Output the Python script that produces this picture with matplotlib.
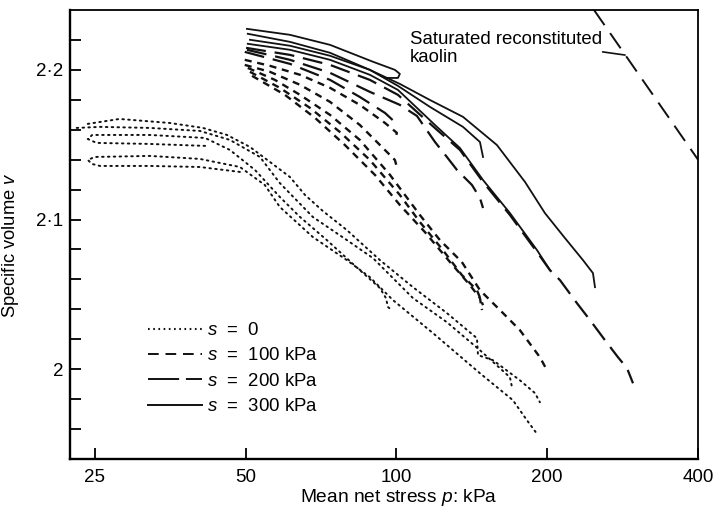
import matplotlib
matplotlib.use('Agg')
import matplotlib.pyplot as plt
from matplotlib.lines import Line2D
from matplotlib.ticker import FixedLocator, FixedFormatter, NullLocator

plt.rcParams['font.family'] = ['Liberation Sans', 'DejaVu Sans']
plt.rcParams['mathtext.fontset'] = 'custom'
plt.rcParams['mathtext.rm'] = 'Liberation Sans'
plt.rcParams['mathtext.it'] = 'Liberation Sans:italic'

# isotropic loading paths, mean net stress p (kPa) and specific volume v
# s = 0
s0_p = [
    [24.2, 28.0, 35.3, 41.1, 45.9, 51.0, 55.9, 61.3, 65.7, 71.3, 79.6, 92.7,
     107.9, 126.1, 144.8, 145.5, 155.9, 176.4, 189.1, 193.4],
    [23.0, 25.6, 32.2, 40.5, 46.5, 53.4, 58.5, 68.1, 79.6, 89.8, 107.9, 126.1,
     146.8, 160.9, 168.5, 170.1],
    [41.5, 32.2, 25.2, 24.2, 24.7, 32.2, 41.5, 46.5, 52.2, 58.5, 64.2, 72.6,
     84.5, 92.7, 95.3, 96.2, 97.9],
    [48.7, 40.5, 32.2, 25.6, 24.7, 24.2, 25.0, 32.2, 40.5, 48.7, 54.6, 58.5,
     68.1, 79.6, 88.5, 98.4, 118.3, 146.8, 170.8, 182.2, 191.7],
]
s0_v = [
    [2.1639, 2.1672, 2.1645, 2.1612, 2.1565, 2.1485, 2.1385, 2.1284, 2.1164,
     2.1057, 2.0930, 2.0729, 2.0548, 2.0375, 2.0207, 2.0094, 2.0060, 1.9926,
     1.9840, 1.9779],
    [2.1612, 2.1619, 2.1612, 2.1592, 2.1532, 2.1418, 2.1244, 2.1017, 2.0863,
     2.0742, 2.0475, 2.0314, 2.0127, 2.0007, 1.9946, 1.9880],
    [2.1492, 2.1505, 2.1512, 2.1538, 2.1565, 2.1565, 2.1545, 2.1465, 2.1331,
     2.1151, 2.1017, 2.0863, 2.0662, 2.0542, 2.0475, 2.0415, 2.0395],
    [2.1318, 2.1351, 2.1358, 2.1358, 2.1371, 2.1398, 2.1418, 2.1425, 2.1405,
     2.1351, 2.1231, 2.1084, 2.0883, 2.0729, 2.0615, 2.0462, 2.0241, 1.9973,
     1.9793, 1.9659, 1.9559],
]

# s = 100 kPa
s100_p = [
    [49.8, 55.9, 64.2, 73.7, 84.5, 94.9, 100.2, 99.3],
    [49.8, 55.9, 64.2, 73.7, 84.5, 92.7, 99.3, 100.2],
    [50.5, 57.2, 64.2, 73.7, 84.5, 97.1, 111.4, 122.1, 135.1, 146.8, 163.2,
     176.4, 193.4, 199.8],
    [51.0, 58.5, 67.2, 77.1, 88.5, 101.6, 111.4, 123.8, 135.1, 144.8, 148.9],
    [51.5, 59.9, 68.8, 78.9, 90.6, 101.6, 114.0, 127.9, 140.2, 146.8, 148.2],
]
s100_v = [
    [2.2067, 2.2027, 2.1967, 2.1880, 2.1766, 2.1645, 2.1579, 2.1532],
    [2.2033, 2.1987, 2.1900, 2.1786, 2.1632, 2.1498, 2.1398, 2.1351],
    [2.2013, 2.1933, 2.1833, 2.1699, 2.1532, 2.1298, 2.1030, 2.0863, 2.0716,
     2.0528, 2.0375, 2.0261, 2.0080, 1.9993],
    [2.1987, 2.1880, 2.1746, 2.1585, 2.1398, 2.1164, 2.0983, 2.0796, 2.0629,
     2.0528, 2.0428],
    [2.1960, 2.1833, 2.1679, 2.1498, 2.1298, 2.1097, 2.0916, 2.0716, 2.0562,
     2.0475, 2.0395],
]

# s = 200 kPa
s200_p = [
    [50.1, 61.3, 73.7, 88.5, 100.7, 120.5, 133.9, 148.9, 168.5, 190.8, 202.5,
     212.1, 229.3, 243.5, 260.8, 276.9, 288.6, 296.7],
    [50.3, 61.3, 73.7, 88.5, 101.6, 109.9, 119.4, 126.1, 132.1, 141.5, 146.8,
     148.9],
    [49.8, 61.3, 73.7, 84.5, 94.9, 100.7],
]
s200_v = [
    [2.2147, 2.2100, 2.2033, 2.1933, 2.1833, 2.1599, 2.1465, 2.1251, 2.1030,
     2.0783, 2.0662, 2.0595, 2.0441, 2.0328, 2.0194, 2.0080, 2.0007, 1.9906],
    [2.2134, 2.2067, 2.1980, 2.1853, 2.1766, 2.1692, 2.1518, 2.1418, 2.1331,
     2.1231, 2.1144, 2.1077],
    [2.2120, 2.2040, 2.1933, 2.1819, 2.1712, 2.1632],
]

# s = 300 kPa
s300_p = [
    [50.3, 61.3, 73.7, 89.8, 99.3, 101.6, 100.7, 94.9],
    [50.5, 61.3, 73.7, 88.5, 100.7, 116.6, 135.8, 146.8, 148.9],
    [51.0, 61.3, 73.7, 88.5, 101.6, 116.6, 135.8, 158.7, 180.6, 197.9, 217.0,
     235.7, 246.8, 249.1],
    [50.5, 61.3, 73.7, 88.5, 100.7, 120.5, 133.9, 148.9, 168.5, 190.8, 202.5],
]
s300_v = [
    [2.2274, 2.2234, 2.2167, 2.2054, 2.2000, 2.1973, 2.1946, 2.1946],
    [2.2241, 2.2187, 2.2114, 2.2000, 2.1893, 2.1753, 2.1619, 2.1518, 2.1418],
    [2.2201, 2.2161, 2.2094, 2.2000, 2.1906, 2.1799, 2.1686, 2.1498, 2.1251,
     2.1043, 2.0876, 2.0729, 2.0642, 2.0548],
    [2.2174, 2.2134, 2.2067, 2.1967, 2.1866, 2.1619, 2.1478, 2.1264, 2.1043,
     2.0796, 2.0662],
]

# normal compression line of saturated kaolin
ncl_p = [248, 400]
ncl_v = [2.240, 2.140]

legend_labels = ['$s$  =  0', '$s$  =  100 kPa', '$s$  =  200 kPa', '$s$  =  300 kPa']
x_ticks = [25, 50, 100, 200, 400]
y_major = [2.0, 2.1, 2.2]
y_major_labels = ['2', '2·1', '2·2']
y_minor = [1.96, 1.98, 2.02, 2.04, 2.06, 2.08, 2.12, 2.14, 2.16, 2.18, 2.22]

ink = '#111111'
dot_style = (0, (0.8, 2.2))
short_dash = (0, (3.0, 2.4))
long_dash = (0, (9.0, 4.0))

fig = plt.figure(figsize=(7.14, 5.12), dpi=100)
ax = fig.add_axes([0.098, 0.1035, 0.8796, 0.877])

for p, v in zip(s0_p, s0_v):
    ax.plot(p, v, color=ink, lw=1.4, ls=dot_style, dash_capstyle='round')
for p, v in zip(s100_p, s100_v):
    ax.plot(p, v, color=ink, lw=1.7, ls=short_dash)
for p, v in zip(s200_p, s200_v):
    ax.plot(p, v, color=ink, lw=1.6, ls=long_dash)
for p, v in zip(s300_p, s300_v):
    ax.plot(p, v, color=ink, lw=1.3, ls='-')

ax.plot(ncl_p, ncl_v, color=ink, lw=1.4, ls=(0, (9.5, 5)))
ax.text(106.5, 2.2262, 'Saturated reconstituted\nkaolin', fontsize=13.4,
        va='top', ha='left', linespacing=1.08)
ax.annotate('', xy=(286, 2.2099), xytext=(258, 2.2120),
            arrowprops=dict(arrowstyle='-', lw=1.2, color=ink,
                            shrinkA=0, shrinkB=0))

ax.set_xscale('log')
ax.set_xlim(22.3, 400)
ax.set_ylim(1.94, 2.24)
ax.xaxis.set_major_locator(FixedLocator(x_ticks))
ax.xaxis.set_major_formatter(FixedFormatter([str(t) for t in x_ticks]))
ax.xaxis.set_minor_locator(NullLocator())
ax.yaxis.set_major_locator(FixedLocator(y_major))
ax.yaxis.set_major_formatter(FixedFormatter(y_major_labels))
ax.yaxis.set_minor_locator(FixedLocator(y_minor))

ax.tick_params(axis='both', which='both', direction='in', length=8, width=1.4,
               color=ink, labelsize=13.5, top=False, right=False)
ax.tick_params(axis='x', pad=7)
ax.tick_params(axis='y', pad=5)
for side in ['left', 'bottom']:
    ax.spines[side].set_linewidth(1.7)
for side in ['top', 'right']:
    ax.spines[side].set_linewidth(1.3)

ax.set_xlabel('Mean net stress $p$: kPa', fontsize=13.8)
ax.xaxis.set_label_coords(0.523, -0.062)
ax.set_ylabel('Specific volume $v$', fontsize=13.2)
ax.yaxis.set_label_coords(-0.078, 0.477)

handles = [
    Line2D([], [], color=ink, lw=1.5, ls=(0, (0.8, 1.7))),
    Line2D([], [], color=ink, lw=1.4, ls=(0, (5.5, 3.5))),
    Line2D([], [], color=ink, lw=1.4, ls=(0, (16, 3.5))),
    Line2D([], [], color=ink, lw=1.4, ls='-'),
]
ax.legend(handles, legend_labels, loc='upper left', bbox_to_anchor=(0.124, 0.305),
          frameon=False, fontsize=13.4, handlelength=2.9, handletextpad=0.3,
          labelspacing=0.45, borderpad=0, borderaxespad=0)

fig.savefig('out.png', dpi=100, facecolor='white')
